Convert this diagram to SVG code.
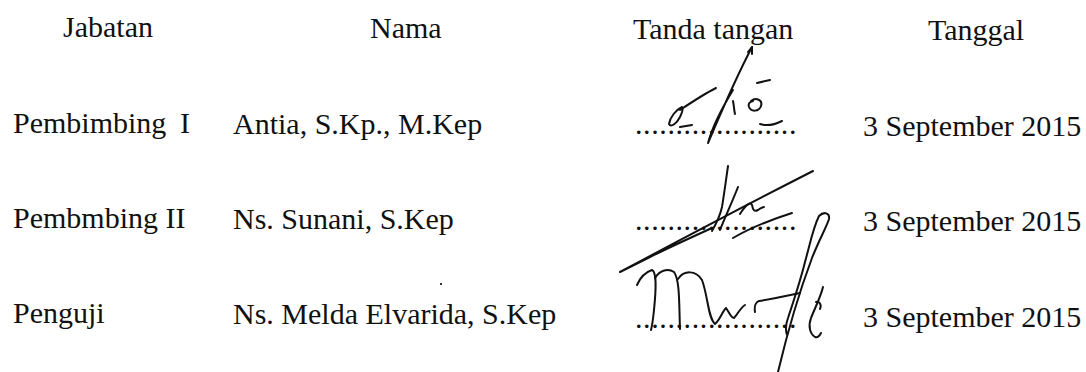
<svg xmlns="http://www.w3.org/2000/svg" width="1086" height="372" viewBox="0 0 1086 372">
<style>
text{font-family:"Liberation Serif","Times New Roman",serif;font-size:30px;fill:#111}
.sig{fill:none;stroke:#111;stroke-width:2;stroke-linecap:round;stroke-linejoin:round}
.dots{letter-spacing:0.6px}
</style>
<rect width="1086" height="372" fill="#fff"/>
<g id="header">
<text x="63" y="37">Jabatan</text>
<text x="370" y="38">Nama</text>
<text x="633" y="39">Tanda tangan</text>
<text x="928" y="40">Tanggal</text>
</g>
<g id="row1">
<text x="13" y="133">Pembimbing</text>
<text x="180" y="133">I</text>
<text x="233" y="134">Antia, S.Kp., M.Kep</text>
<text class="dots" x="635" y="134">....................</text>
<text x="863" y="136">3 September 2015</text>
</g>
<g id="row2">
<text x="13" y="228">Pembmbing II</text>
<text x="233" y="229">Ns. Sunani, S.Kep</text>
<text class="dots" x="635" y="230">....................</text>
<text x="863" y="231">3 September 2015</text>
</g>
<g id="row3">
<text x="13" y="323">Penguji</text>
<text x="233" y="324">Ns. Melda Elvarida, S.Kep</text>
<text class="dots" x="635" y="328">....................</text>
<text x="863" y="327">3 September 2015</text>
</g>
<rect x="440" y="283" width="2" height="2" fill="#333"/>
<g id="signature1">
<path class="sig" d="M682,107 C676,110 670,117 669,124 C671,128 677,123 680,117 C682,112 684,109 682,107"/>
<path class="sig" d="M680,110 C692,102 704,94 716,88"/>
<path class="sig" d="M680,127 L692,125"/>
<path class="sig" d="M752,47 C740,70 722,110 708,143 C712,128 722,108 733,90"/>
<path class="sig" d="M748,52 L752,47 L752,54"/>
<path class="sig" d="M733,101 C734,106 734,110 735,114"/>
<path class="sig" d="M751,101 C756,97 763,100 761,106 C759,112 751,112 749,107 C748,104 749,102 753,101"/>
<path class="sig" d="M757,83 L770,80"/>
<path class="sig" d="M760,124 C766,126 774,125 782,121"/>
</g>
<g id="signature2">
<path class="sig" d="M813,171 C760,198 680,240 620,272 C630,267 640,262 650,257 C670,247 690,238 712,228"/>
<path class="sig" d="M728,166 C726,180 724,195 722,207 C720,216 716,224 712,231"/>
<path class="sig" d="M738,187 C733,200 726,215 720,230"/>
<path class="sig" d="M740,214 C745,206 750,201 752,205 C753,210 754,212 758,210 C761,208 763,207 764,207"/>
<path class="sig" d="M733,238 C750,228 770,220 792,213"/>
</g>
<g id="signature3">
<path class="sig" d="M637,285 C640,278 646,272 652,270 C657,272 656,290 654,310 C653,320 652,326 651,330"/>
<path class="sig" d="M655,278 C660,270 668,268 674,272 C680,280 679,305 680,329"/>
<path class="sig" d="M678,279 C684,270 696,270 702,280 C708,296 708,318 715,324 C720,320 722,312 726,308 C729,312 731,318 734,318 C738,314 740,308 745,305"/>
<path class="sig" d="M755,312 C754,306 756,302 759,301 C772,299 786,296 800,293"/>
<path class="sig" d="M778,372 C788,330 800,290 812,258 C819,240 827,226 829,219 C830,213 824,211 819,216 C813,228 810,244 805,262 C800,282 794,300 788,318 C785,326 786,332 787,335"/>
<path class="sig" d="M823,287 C821,296 815,308 811,318 C808,326 810,334 815,337 C818,338 820,335 821,333"/>
<path class="sig" d="M816,302 C819,301 822,304 820,309"/>
</g>
</svg>
